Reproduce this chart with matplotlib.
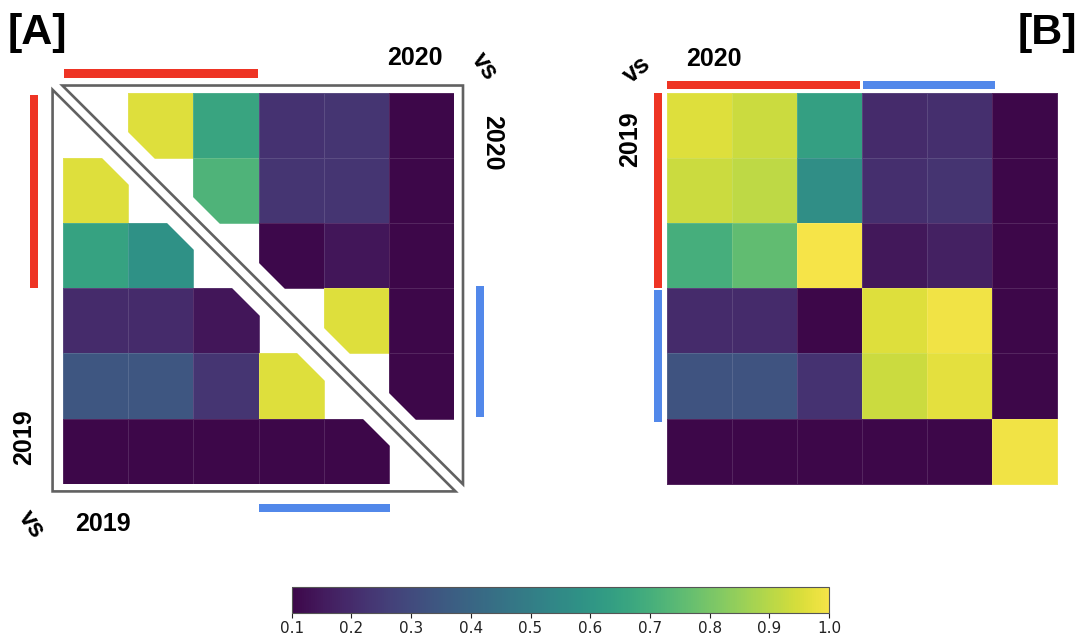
import numpy as np
import matplotlib
matplotlib.use("Agg")
import matplotlib.pyplot as plt
from matplotlib.patches import Polygon, Rectangle
from matplotlib.colors import Normalize, ListedColormap
from matplotlib.cm import ScalarMappable

nan = np.nan

# ---------------- data ----------------
# panel A, upper triangle: 2020 vs 2020 (row i, col j, j > i)
sim_2020_vs_2020 = [
    [nan, 0.96, 0.66, 0.22, 0.23, 0.10],
    [nan, nan, 0.72, 0.23, 0.23, 0.10],
    [nan, nan, nan, 0.105, 0.14, 0.10],
    [nan, nan, nan, nan, 0.96, 0.10],
    [nan, nan, nan, nan, nan, 0.10],
    [nan, nan, nan, nan, nan, nan],
]
# panel A, lower triangle: 2019 vs 2019 (row i, col j, i > j)
sim_2019_vs_2019 = [
    [nan, nan, nan, nan, nan, nan],
    [0.96, nan, nan, nan, nan, nan],
    [0.65, 0.58, nan, nan, nan, nan],
    [0.20, 0.20, 0.14, nan, nan, nan],
    [0.34, 0.34, 0.23, 0.96, nan, nan],
    [0.10, 0.10, 0.10, 0.10, 0.10, nan],
]
# panel B: 2019 (rows) vs 2020 (cols)
sim_2019_vs_2020 = [
    [0.96, 0.93, 0.64, 0.20, 0.21, 0.10],
    [0.93, 0.91, 0.57, 0.21, 0.225, 0.10],
    [0.70, 0.76, 1.00, 0.145, 0.17, 0.10],
    [0.20, 0.20, 0.10, 0.96, 0.99, 0.10],
    [0.33, 0.33, 0.22, 0.93, 0.97, 0.10],
    [0.10, 0.10, 0.10, 0.10, 0.10, 0.99],
]
group_red = (0, 3)    # categories 0..2
group_blue = (3, 5)   # categories 3..4
colorbar_ticks = [0.1, 0.2, 0.3, 0.4, 0.5, 0.6, 0.7, 0.8, 0.9, 1.0]
vmin, vmax = 0.1, 1.0

RED = "#EE3424"
BLUE = "#5288EA"
FRAME = "#616161"

W, H = 1080, 634
fig = plt.figure(figsize=(W / 100, H / 100), dpi=100)

# slightly muted viridis (as in the reference rendering)
base = plt.get_cmap("viridis")(np.linspace(0, 1, 256))[:, :3]
lum = (base @ np.array([0.299, 0.587, 0.114]))[:, None]
muted = np.clip(lum + 0.8 * (base - lum), 0, 1)
cmap = ListedColormap(muted, name="viridis_muted")
norm = Normalize(vmin=vmin, vmax=vmax)


def px_axes(left, top, right, bottom):
    return fig.add_axes([left / W, 1 - bottom / H, (right - left) / W, (bottom - top) / H])


n = 6
edges = np.arange(n + 1)
EDGE = (1, 1, 1, 0.12)

# ---------------- panel A ----------------
# grid: x_px = 63 + 65.2*gx, y_px = 93 + 65.1*gy
axA = px_axes(63 - 0.6 * 65.2, 93 - 0.6 * 65.1, 63 + 6.6 * 65.2, 93 + 6.6 * 65.1)
axA.set_xlim(-0.6, 6.6)
axA.set_ylim(6.6, -0.6)
axA.axis("off")

cut = 0.4
up = np.ma.masked_invalid(np.array(sim_2020_vs_2020))
lo = np.ma.masked_invalid(np.array(sim_2019_vs_2019))
m_up = axA.pcolormesh(edges, edges, up, cmap=cmap, norm=norm,
                      edgecolors=EDGE, linewidth=0.4)
m_lo = axA.pcolormesh(edges, edges, lo, cmap=cmap, norm=norm,
                      edgecolors=EDGE, linewidth=0.4)
clip_up = Polygon([(cut, 0), (n, 0), (n, n - cut)], closed=True, transform=axA.transData)
clip_lo = Polygon([(0, cut), (0, n), (n - cut, n)], closed=True, transform=axA.transData)
m_up.set_clip_path(clip_up)
m_lo.set_clip_path(clip_lo)

# triangle frames
up_frame = Polygon([(-0.01, -0.115), (6.135, -0.115), (6.135, 6.01)], closed=True,
                   fill=False, edgecolor=FRAME, linewidth=1.9, joinstyle="miter",
                   clip_on=False)
lo_frame = Polygon([(-0.16, -0.05), (-0.16, 6.12), (6.02, 6.12)], closed=True,
                   fill=False, edgecolor=FRAME, linewidth=1.9, joinstyle="miter",
                   clip_on=False)
axA.add_patch(up_frame)
axA.add_patch(lo_frame)


def bar(ax, x0, y0, x1, y1, color):
    ax.add_patch(Rectangle((x0, y0), x1 - x0, y1 - y0, facecolor=color,
                           edgecolor="none", clip_on=False))


bar(axA, group_red[0] + 0.02, -0.37, group_red[1] - 0.01, -0.235, RED)        # top red
bar(axA, -0.506, group_red[0] + 0.03, -0.383, group_red[1] - 0.01, RED)        # left red
bar(axA, 6.33, group_blue[0] - 0.04, 6.46, group_blue[1] - 0.03, BLUE)         # right blue
bar(axA, group_blue[0], 6.31, group_blue[1] + 0.02, 6.44, BLUE)               # bottom blue

# ---------------- panel B ----------------
# grid: x_px = 666.7 + 65.13*gx, y_px = 92.7 + 65.2*gy
axB = px_axes(666.7 - 0.4 * 65.13, 92.7 - 0.4 * 65.2, 666.7 + 6.1 * 65.13, 92.7 + 6.1 * 65.2)
axB.set_xlim(-0.4, 6.1)
axB.set_ylim(6.1, -0.4)
axB.axis("off")
axB.pcolormesh(edges, edges, np.array(sim_2019_vs_2020), cmap=cmap, norm=norm,
               edgecolors=EDGE, linewidth=0.5)

bar(axB, group_red[0], -0.18, group_red[1] - 0.03, -0.05, RED)            # top red
bar(axB, group_blue[0] + 0.02, -0.18, group_blue[1] + 0.04, -0.05, BLUE)  # top blue
bar(axB, -0.195, group_red[0] + 0.01, -0.07, group_red[1] - 0.01, RED)    # left red
bar(axB, -0.195, group_blue[0] + 0.03, -0.07, group_blue[1] + 0.05, BLUE)  # left blue

# ---------------- texts ----------------
LBL = dict(family=["Liberation Sans", "DejaVu Sans"], fontweight="bold", color="black",
           ha="center", va="center")


def ftext(x, y, s, size=18, rot=0):
    fig.text(x / W, 1 - y / H, s, fontsize=size, rotation=rot, **LBL)


ftext(37, 33, "[A]", size=31)
ftext(1047, 33, "[B]", size=31)

ftext(415, 58, "2020")
ftext(485, 66, "vs", rot=-55)
ftext(492, 143, "2020", rot=-90)
ftext(24, 437, "2019", rot=90)
ftext(32, 524, "vs", rot=-55)
ftext(103, 524, "2019")

ftext(637, 70, "vs", rot=40)
ftext(714, 59, "2020")
ftext(630, 139, "2019", rot=90)

# ---------------- colorbar ----------------
cax = px_axes(291.8, 587, 829, 613)
sm = ScalarMappable(norm=norm, cmap=cmap)
cb = fig.colorbar(sm, cax=cax, orientation="horizontal", ticks=colorbar_ticks)
cb.ax.set_xticklabels([f"{t:.1f}" for t in colorbar_ticks])
cb.ax.tick_params(labelsize=11, length=3.5, width=0.8, pad=2, colors="#222222")
cb.outline.set_linewidth(0.8)
cb.outline.set_edgecolor("#555555")

fig.savefig("out.png", dpi=100)
